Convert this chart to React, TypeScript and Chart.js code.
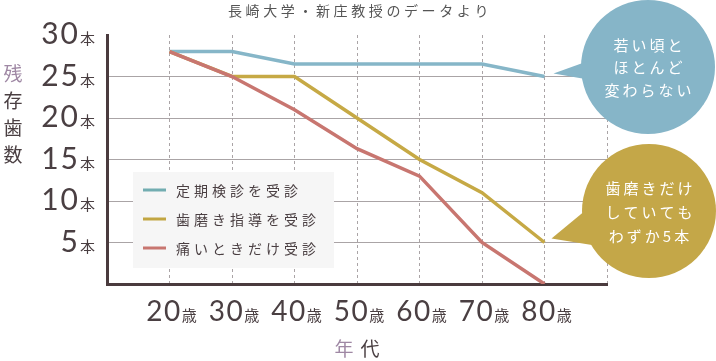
import React, { useEffect, useRef } from "react";
import { Chart, registerables } from "chart.js";

Chart.register(...registerables);

const ages = [20, 30, 40, 50, 60, 70, 80];
const regularCheckup = [28, 28, 26.5, 26.5, 26.5, 26.5, 25];
const brushingGuidance = [28, 25, 25, 20, 15, 11, 5];
const onlyWhenPain = [28, 25, 21, 16.3, 13, 5, 0];
const seriesLabels = ["定期検診を受診", "歯磨き指導を受診", "痛いときだけ受診"];
const lineColors = ["#86b6c8", "#c6a945", "#c87670"];
const legendColors = ["#72adb1", "#c2a642", "#c87670"];
const yTickValues = [5, 10, 15, 20, 25, 30];
const yTickUnit = "本";
const xTickUnit = "歳";
const titleText = "長崎大学・新庄教授のデータより";
const yTitleChars = ["残", "存", "歯", "数"];
const xTitleChars = ["年", "代"];
const bubbleBlueLines = ["若い頃と", "ほとんど", "変わらない"];
const bubbleGoldLines = ["歯磨きだけ", "していても", "わずか5本"];

const TEXT = "#4a3f42";
const PURPLE = "#9f88a4";
const AXIS = "#4a3b3e";
const GRID = "#aaa4a6";
const JP = '"Noto Sans CJK JP", "Noto Sans", sans-serif';
const NUM = 'Lato, "Noto Sans", sans-serif';

const decorPlugin = {
  id: "decor",
  afterDraw(chart: any) {
    const ctx = chart.ctx as CanvasRenderingContext2D;
    const xs = chart.scales.x;
    const ys = chart.scales.y;
    ctx.save();

    // title
    ctx.fillStyle = "#555";
    ctx.font = `400 14px ${JP}`;
    (ctx as any).letterSpacing = "3.6px";
    ctx.textAlign = "center";
    ctx.textBaseline = "middle";
    ctx.fillText(titleText, 360, 11);

    // y tick labels
    (ctx as any).letterSpacing = "0px";
    ctx.textBaseline = "alphabetic";
    ctx.textAlign = "right";
    yTickValues.forEach((v) => {
      const y = ys.getPixelForValue(v);
      ctx.fillStyle = TEXT;
      ctx.font = `400 15px ${JP}`;
      const uw = ctx.measureText(yTickUnit).width;
      ctx.fillText(yTickUnit, 95, y + 9);
      ctx.font = `400 30px ${NUM}`;
      (ctx as any).letterSpacing = "2px";
      ctx.fillText(String(v), 95 - uw, y + 9);
      (ctx as any).letterSpacing = "0px";
    });

    // x tick labels
    ctx.textAlign = "left";
    ages.forEach((a) => {
      const x = xs.getPixelForValue(a);
      ctx.font = `400 28px ${NUM}`;
      (ctx as any).letterSpacing = "1.5px";
      const nw = ctx.measureText(String(a)).width;
      ctx.font = `400 15px ${JP}`;
      (ctx as any).letterSpacing = "0px";
      const uw = ctx.measureText(xTickUnit).width;
      const start = x - (nw + uw) / 2 + 2;
      ctx.fillStyle = TEXT;
      ctx.font = `400 28px ${NUM}`;
      (ctx as any).letterSpacing = "1.5px";
      ctx.fillText(String(a), start, 321);
      ctx.font = `400 15px ${JP}`;
      (ctx as any).letterSpacing = "0px";
      ctx.fillText(xTickUnit, start + nw, 321);
    });

    // y title
    ctx.textAlign = "center";
    ctx.textBaseline = "middle";
    ctx.font = `400 19px ${JP}`;
    yTitleChars.forEach((c, i) => {
      ctx.fillStyle = i === 0 ? PURPLE : TEXT;
      ctx.fillText(c, 13, 74 + i * 27);
    });

    // x title
    xTitleChars.forEach((c, i) => {
      ctx.fillStyle = i === 0 ? PURPLE : TEXT;
      ctx.fillText(c, 344 + i * 26, 349);
    });

    // legend
    ctx.fillStyle = "#f6f6f6";
    ctx.fillRect(133, 172, 201, 96);
    ctx.textAlign = "left";
    ctx.font = `400 14px ${JP}`;
    (ctx as any).letterSpacing = "4px";
    seriesLabels.forEach((lab, i) => {
      const y = 190 + i * 29;
      ctx.strokeStyle = legendColors[i];
      ctx.lineWidth = 3;
      ctx.beginPath();
      ctx.moveTo(143, y);
      ctx.lineTo(166, y);
      ctx.stroke();
      ctx.fillStyle = TEXT;
      ctx.fillText(lab, 176, y + 1);
    });
    (ctx as any).letterSpacing = "0px";

    // bubbles
    const drawBubble = (
      cx: number,
      cy: number,
      r: number,
      tipX: number,
      tipY: number,
      b1: number,
      b2: number,
      color: string,
      lines: string[],
      lineYs: number[]
    ) => {
      ctx.fillStyle = color;
      ctx.beginPath();
      ctx.arc(cx, cy, r, 0, Math.PI * 2);
      ctx.fill();
      ctx.beginPath();
      ctx.moveTo(tipX, tipY);
      ctx.lineTo(cx - r + 10, b1);
      ctx.lineTo(cx - r + 10, b2);
      ctx.closePath();
      ctx.fill();
      ctx.fillStyle = "#ffffff";
      ctx.font = `400 15px ${JP}`;
      (ctx as any).letterSpacing = "3px";
      ctx.textAlign = "center";
      ctx.textBaseline = "middle";
      lines.forEach((t, i) => ctx.fillText(t, cx + 1.5, lineYs[i]));
      (ctx as any).letterSpacing = "0px";
    };
    const x80 = xs.getPixelForValue(80);
    drawBubble(648, 67, 67, x80 + 9, ys.getPixelForValue(regularCheckup[6]) - 3, 60, 80, "#86b5c8", bubbleBlueLines, [45, 67, 90]);
    drawBubble(649, 211, 67, x80 + 7, ys.getPixelForValue(brushingGuidance[6]) - 4, 205, 245, "#c4a748", bubbleGoldLines, [188, 212, 236]);

    ctx.restore();
  },
};

export default function App() {
  const ref = useRef<HTMLCanvasElement | null>(null);
  useEffect(() => {
    document.body.style.margin = "0";
    const series = [regularCheckup, brushingGuidance, onlyWhenPain];
    const chart = new Chart(ref.current as HTMLCanvasElement, {
      type: "line",
      data: {
        datasets: series.map((vals, i) => ({
          label: seriesLabels[i],
          data: vals.map((v, j) => ({ x: ages[j], y: v })),
          borderColor: lineColors[i],
          borderWidth: 3.5,
          pointRadius: 0,
          tension: 0,
          fill: false,
          order: 2 - i,
        })),
      },
      options: {
        animation: false,
        responsive: false,
        layout: { padding: { left: 107, right: 109, top: 35, bottom: 77 } },
        plugins: { legend: { display: false }, tooltip: { enabled: false }, title: { display: false } },
        scales: {
          x: {
            type: "linear",
            min: 10,
            max: 90,
            ticks: { stepSize: 10, display: false },
            grid: {
              drawTicks: false,
              lineWidth: 1,
              color: (c: any) => (c.tick && c.tick.value === 10 ? "rgba(0,0,0,0)" : GRID),
            },
            border: { display: true, color: AXIS, width: 3, dash: [3, 3] },
          },
          y: {
            min: 0,
            max: 30,
            ticks: { stepSize: 5, display: false },
            grid: {
              drawTicks: false,
              lineWidth: 1,
              color: (c: any) =>
                c.tick && (c.tick.value === 0 || c.tick.value === 30) ? "rgba(0,0,0,0)" : GRID,
            },
            border: { display: true, color: AXIS, width: 3 },
          },
        },
      },
      plugins: [decorPlugin],
    });
    return () => chart.destroy();
  }, []);
  return (
    <div style={{ position: "absolute", left: 0, top: 0, width: 716, height: 361, background: "#fff" }}>
      <canvas ref={ref} width={716} height={361} />
    </div>
  );
}
